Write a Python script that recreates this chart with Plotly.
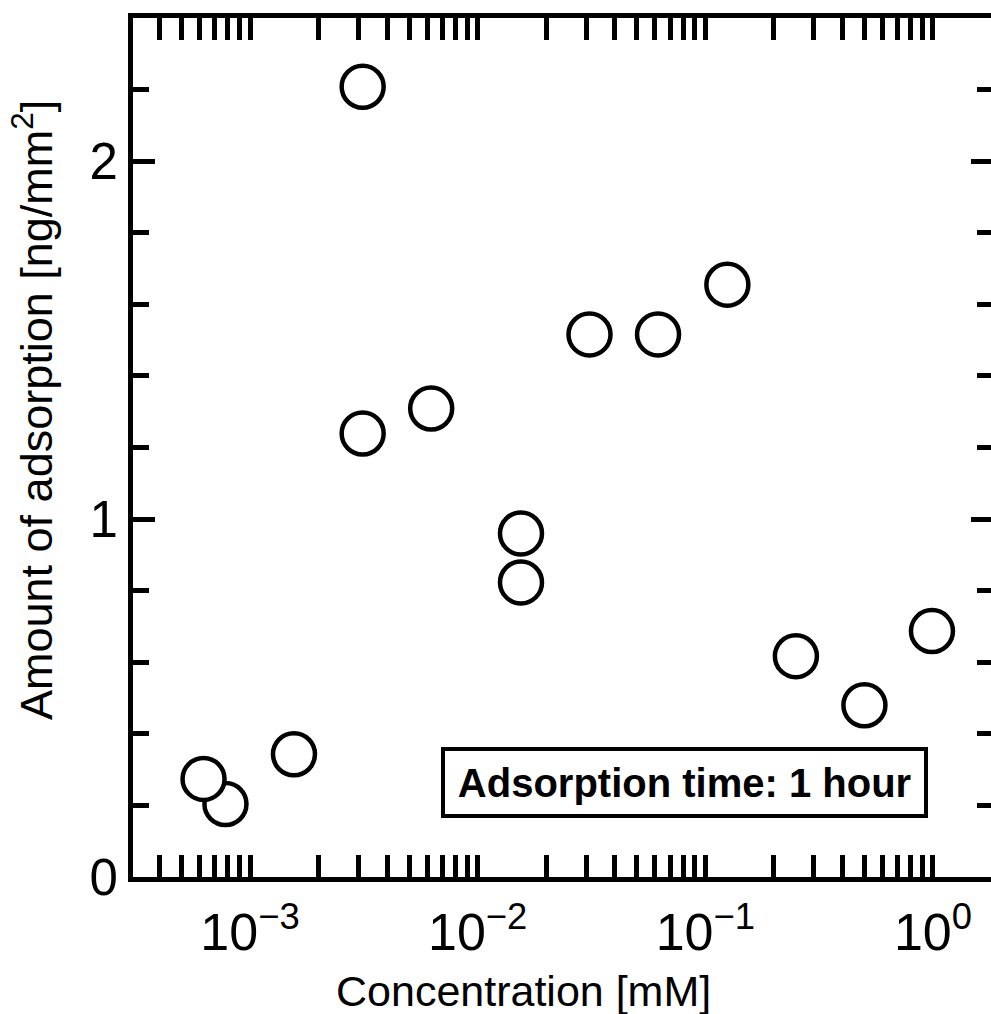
import plotly.graph_objects as go

# Data
concentration_mM = [0.00078, 0.000625, 0.00156, 0.003125, 0.003125, 0.00625,
                    0.0155, 0.0155, 0.031, 0.062, 0.125, 0.25, 0.5, 0.99]
adsorption = [0.204, 0.274, 0.343, 2.208, 1.239, 1.309,
              0.960, 0.823, 1.516, 1.516, 1.655, 0.617, 0.480, 0.687]

x_tickvals = [0.001, 0.01, 0.1, 1]
x_ticktext = ["10<sup>\u22123</sup>", "10<sup>\u22122</sup>", "10<sup>\u22121</sup>", "10<sup>0</sup>"]
x_minor = [d * k for d in [1e-4, 1e-3, 1e-2, 1e-1, 1] for k in range(2, 10)]
y_tickvals = [0, 1, 2]
y_ticktext = ["0", "1", "2"]
y_minor = [0.2, 0.4, 0.6, 0.8, 1.2, 1.4, 1.6, 1.8, 2.2]

FONT = "Arial, Liberation Sans, sans-serif"
XR = [-3.514, 0.255]
YR = [0, 2.4]

fig = go.Figure()
marker = dict(symbol="circle", size=42, color="white",
              line=dict(color="black", width=4.5))
fig.add_trace(go.Scatter(x=concentration_mM, y=adsorption, mode="markers",
                         marker=marker, showlegend=False, cliponaxis=False))
fig.add_trace(go.Scatter(x=concentration_mM, y=adsorption, mode="markers",
                         yaxis="y2", marker=dict(opacity=0), showlegend=False,
                         hoverinfo="skip"))

fig.update_layout(
    width=991, height=1014,
    margin=dict(l=133, r=0, t=18, b=137),
    paper_bgcolor="white", plot_bgcolor="white",
    font=dict(family=FONT, color="black"),
    xaxis=dict(type="log", range=XR, showgrid=False, zeroline=False,
               showline=True, linecolor="black", linewidth=5, mirror="allticks",
               ticks="inside", ticklen=22, tickwidth=5, tickcolor="black",
               tickmode="array", tickvals=x_tickvals, ticktext=x_ticktext,
               tickfont=dict(size=52, family=FONT), ticklabelstandoff=6,
               minor=dict(ticks="inside", ticklen=16, tickwidth=5,
                          tickcolor="black", tickmode="array", tickvals=x_minor,
                          showgrid=False)),
    yaxis=dict(range=YR, showgrid=False, zeroline=False,
               showline=True, linecolor="black", linewidth=5, mirror=False,
               ticks="inside", ticklen=22, tickwidth=5, tickcolor="black",
               tickmode="array", tickvals=y_tickvals, ticktext=y_ticktext,
               tickfont=dict(size=51, family=FONT),
               minor=dict(ticks="inside", ticklen=16, tickwidth=5,
                          tickcolor="black", tickmode="array", tickvals=y_minor,
                          showgrid=False)),
    yaxis2=dict(range=YR, overlaying="y", side="right", anchor="x",
                showgrid=False, zeroline=False, showline=False,
                showticklabels=False,
                ticks="inside", ticklen=20, tickwidth=5, tickcolor="black",
                tickmode="array", tickvals=y_tickvals,
                minor=dict(ticks="inside", ticklen=14, tickwidth=5,
                           tickcolor="black", tickmode="array", tickvals=y_minor,
                           showgrid=False)),
    annotations=[
        dict(text="<b>Adsorption time: 1 hour</b>", xref="paper", yref="paper",
             x=(684.5 - 133) / 858, y=(877 - 782.5) / 859,
             xanchor="center", yanchor="middle",
             showarrow=False, font=dict(size=40, family=FONT, color="black"),
             bordercolor="black", borderwidth=4, borderpad=6,
             width=467, height=51, bgcolor="white"),
        dict(text="Concentration [mM]", xref="paper", yref="paper",
             x=(523 - 133) / 858, y=-(991 - 877) / 859,
             xanchor="center", yanchor="middle", showarrow=False,
             font=dict(size=43, family=FONT, color="black")),
        dict(text="Amount of adsorption [ng/mm<sup>2</sup>]", xref="paper",
             yref="paper", x=(33 - 133) / 858, y=(877 - 410) / 859,
             xanchor="center", yanchor="middle", textangle=-90,
             showarrow=False, font=dict(size=45, family=FONT, color="black")),
    ],
)

fig.write_html("out.html")
